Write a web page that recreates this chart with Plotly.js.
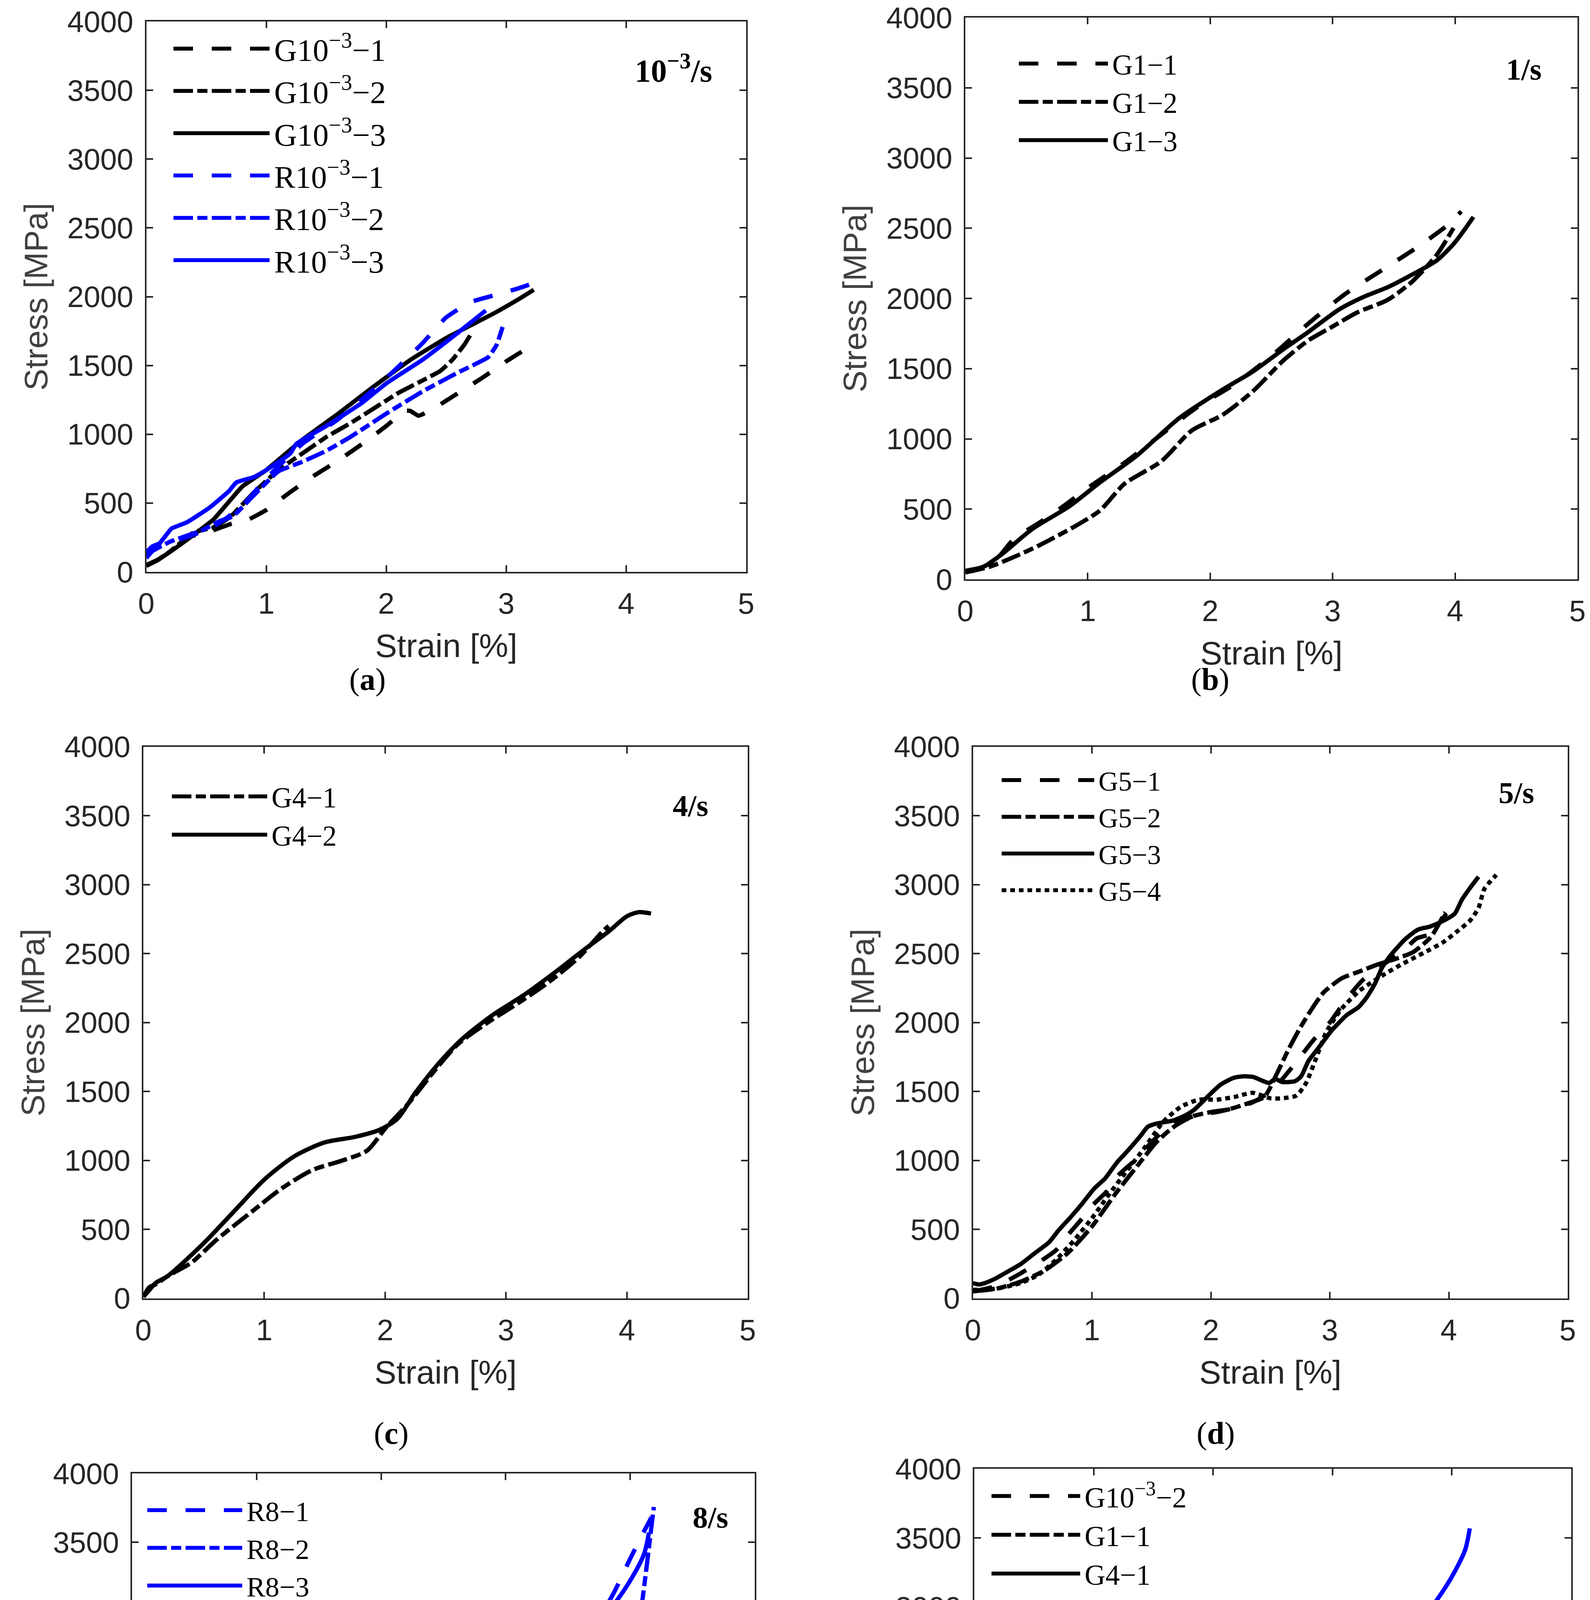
<!DOCTYPE html>
<html>
<head>
<meta charset="utf-8">
<script src="https://cdn.plot.ly/plotly-3.0.1.min.js"></script>
<style>html,body{margin:0;padding:0;background:#fff;}#chart{width:4070px;height:5597px;}</style>
</head>
<body>
<div id="chart"></div>
<script>
// ---------------- DATA (strain [%], stress [MPa]) ----------------
// (a) 10^-3/s
const a_G1_x = [0,0.1,0.2,0.35,0.55,0.71,0.85,1.0,1.2,1.4,1.6,1.8,2.0,2.15,2.2,2.27,2.4,2.6,2.8,3.0,3.2,3.25];
const a_G1_y = [50,90,150,250,300,350,380,450,580,700,810,930,1060,1170,1170,1135,1190,1300,1410,1530,1640,1680];
const a_G2_x = [0,0.1,0.2,0.4,0.55,0.7,0.9,1.1,1.3,1.5,1.7,1.9,2.1,2.3,2.45,2.55,2.65,2.7];
const a_G2_y = [44,88,150,290,320,400,580,740,860,980,1080,1190,1300,1390,1460,1540,1650,1720];
const a_G3_x = [0,0.1,0.21,0.4,0.56,0.8,1.0,1.3,1.6,1.9,2.2,2.5,2.7,2.9,3.1,3.23];
const a_G3_y = [44,90,153,273,381,620,740,960,1150,1350,1540,1700,1790,1880,1980,2050];
const a_R1_x = [0,0.05,0.18,0.44,0.6,0.8,1.0,1.3,1.6,1.9,2.1,2.3,2.5,2.7,2.9,3.1,3.2];
const a_R1_y = [120,180,207,284,350,480,680,930,1110,1330,1490,1660,1850,1960,2010,2060,2090];
const a_R2_x = [0,0.05,0.2,0.47,0.61,0.72,0.9,1.1,1.3,1.5,1.7,2.0,2.3,2.6,2.85,2.92,2.97];
const a_R2_y = [100,150,220,304,369,403,560,730,800,880,980,1150,1310,1450,1560,1650,1780];
const a_R3_x = [0,0.05,0.11,0.15,0.21,0.34,0.53,0.69,0.75,0.9,1.0,1.2,1.25,1.5,1.8,2.0,2.3,2.6,2.83];
const a_R3_y = [142,185,207,250,315,361,469,588,650,690,740,860,930,1060,1230,1370,1540,1740,1900];

// (b) 1/s
const b_G1_x = [0,0.1,0.25,0.4,0.6,0.8,1.0,1.3,1.6,1.9,2.2,2.5,2.8,3.1,3.4,3.7,3.95,4.05];
const b_G1_y = [50,70,140,290,400,520,650,830,1030,1230,1390,1590,1820,2030,2200,2370,2530,2620];
const b_G2_x = [0,0.2,0.4,0.6,0.9,1.1,1.3,1.6,1.85,2.1,2.35,2.6,2.8,3.0,3.2,3.45,3.65,3.85,4.0];
const b_G2_y = [50,90,160,240,380,490,680,840,1060,1170,1340,1560,1700,1800,1900,1990,2120,2310,2520];
const b_G3_x = [0,0.15,0.3,0.55,0.85,1.1,1.4,1.75,2.1,2.35,2.6,2.8,3.05,3.25,3.45,3.65,3.85,4.0,4.15];
const b_G3_y = [60,90,180,360,520,690,880,1150,1350,1480,1640,1760,1920,2010,2080,2170,2270,2400,2580];

// (c) 4/s
const c_G1_x = [0,0.05,0.1,0.2,0.4,0.6,0.9,1.15,1.4,1.65,1.85,2.0,2.2,2.4,2.6,2.85,3.1,3.35,3.6,3.8,3.85];
const c_G1_y = [10,80,100,160,260,420,630,800,930,1000,1070,1230,1420,1640,1840,2000,2140,2290,2470,2660,2700];
const c_G2_x = [0,0.05,0.1,0.2,0.5,0.75,1.0,1.25,1.5,1.75,1.95,2.1,2.25,2.45,2.65,2.9,3.15,3.4,3.65,3.85,4.0,4.1,4.2];
const c_G2_y = [10,60,110,160,400,630,860,1030,1130,1170,1220,1300,1490,1710,1890,2060,2200,2360,2530,2660,2770,2800,2790];

// (d) 5/s
const d_G1_x = [0,0.2,0.4,0.57,0.7,0.8,0.9,1.0,1.12,1.22,1.36,1.5,1.62,1.75,1.9,2.05,2.2,2.35,2.45,2.55,2.65,2.76,2.86,3.0,3.14,3.28,3.45,3.63,3.73,3.84,3.98];
const d_G1_y = [50,90,180,270,350,460,560,670,770,890,1000,1130,1230,1290,1330,1350,1380,1420,1470,1540,1640,1760,1870,2000,2170,2310,2420,2530,2610,2640,2790];
const d_G2_x = [0,0.2,0.4,0.6,0.8,1.0,1.2,1.4,1.55,1.7,1.85,2.0,2.15,2.3,2.45,2.55,2.65,2.75,2.85,2.95,3.1,3.25,3.4,3.55,3.7,3.85,3.97];
const d_G2_y = [50,70,120,200,330,520,760,980,1140,1250,1320,1350,1370,1410,1460,1620,1800,1960,2100,2220,2320,2370,2420,2460,2510,2620,2800];
const d_G3_x = [0,0.05,0.1,0.18,0.3,0.4,0.52,0.64,0.72,0.82,0.92,1.02,1.11,1.21,1.31,1.41,1.47,1.54,1.68,1.78,1.86,1.98,2.08,2.19,2.28,2.36,2.42,2.49,2.54,2.6,2.71,2.76,2.82,2.91,3.01,3.14,3.24,3.31,3.38,3.44,3.51,3.63,3.74,3.84,3.94,4.05,4.11,4.18,4.25];
const d_G3_y = [110,100,110,139,197,247,327,406,493,587,688,796,868,984,1078,1179,1244,1266,1288,1324,1367,1468,1548,1598,1610,1604,1582,1561,1590,1568,1575,1611,1720,1821,1936,2052,2110,2182,2283,2399,2486,2601,2673,2695,2731,2789,2890,2977,3056];
const d_G4_x = [0,0.2,0.4,0.55,0.7,0.85,1.0,1.15,1.3,1.45,1.6,1.75,1.9,2.05,2.2,2.35,2.5,2.6,2.72,2.8,2.88,2.97,3.1,3.25,3.44,3.6,3.8,3.95,4.07,4.18,4.25,4.3,4.4];
const d_G4_y = [60,70,110,170,280,420,580,760,930,1100,1280,1390,1440,1440,1460,1490,1450,1450,1470,1560,1730,1930,2100,2230,2340,2420,2510,2580,2660,2740,2830,2970,3070];

// (e) 8/s
const e_R1_x = [0,0,0.04,0.12,0.3,0.55,0.77,0.97,1.14,1.26,1.38,1.5,1.6,1.7,1.8,1.95,2.05,2.2,2.36,2.48,2.65,2.85,2.97,3.14,3.3,3.46,3.63,3.83,4.0,4.1,4.17];
const e_R1_y = [30,210,350,450,590,760,940,1180,1450,1730,1900,1970,1930,1800,1620,1390,1310,1410,1660,1760,1780,1790,1930,2280,2550,2690,2830,3070,3380,3560,3680];
const e_R2_x = [0,0.05,0.16,0.36,0.57,0.77,0.97,1.14,1.3,1.46,1.63,1.79,1.95,2.12,2.32,2.52,2.69,2.85,3.01,3.18,3.34,3.5,3.63,3.75,3.83,3.91,3.99,4.07,4.13,4.18,4.19];
const e_R2_y = [150,90,62,38,79,216,491,904,1179,1522,1866,2175,2485,2691,2845,2897,2863,2759,2622,2450,2210,2038,1928,1918,2003,2209,2485,2897,3309,3687,3756];
const R8_3_x = [0,0.16,0.4,0.65,0.81,0.97,1.14,1.3,1.46,1.63,1.79,1.95,2.08,2.2,2.32,2.44,2.57,2.67,2.77,2.89,3.01,3.18,3.34,3.5,3.67,3.83,3.99,4.11,4.15];
const R8_3_y = [125,62,45,79,148,320,629,973,1351,1729,2072,2278,2320,2261,2072,1832,1625,1505,1557,1763,2038,2347,2553,2691,2828,3000,3206,3412,3570];

// (f) comparison
const f_G10_x = [0,0.2,0.4,0.6,0.9,1.2,1.5,1.71,1.85,1.97,2.09,2.19,2.35,2.5,2.65,2.75,2.85];
const f_G10_y = [70,170,290,410,600,810,1000,1107,1177,1294,1365,1423,1530,1630,1720,1780,1830];
const f_G1_x = [0,0.2,0.4,0.6,0.9,1.28,1.47,1.7,1.9,2.1,2.3,2.5,2.8,3.0,3.13,3.25,3.4,3.56,3.64,3.75,3.89,3.99,4.04];
const f_G1_y = [50,110,200,330,560,874,955,1090,1200,1330,1470,1620,1888,2015,2085,2155,2238,2331,2378,2443,2517,2588,2622];
const f_G4_x = [0,0.2,0.41,0.6,0.87,1.14,1.45,1.71,1.87,1.98,2.09,2.19,2.29,2.43,2.57,2.77,2.99,3.21,3.37,3.53,3.67,3.81,3.95,4.05];
const f_G4_y = [40,238,375,470,664,815,992,1037,1084,1154,1259,1376,1552,1668,1773,1902,2066,2215,2320,2461,2578,2707,2780,2797];
const f_G5_x = [0,0.2,0.33,0.6,0.8,1.0,1.2,1.36,1.47,1.59,1.7,1.81,1.9,2.0,2.12,2.2,2.36,2.49,2.57,2.63,2.77,2.93,3.05,3.18,3.29,3.4,3.52,3.65,3.8];
const f_G5_y = [60,100,119,300,450,620,820,1026,1096,1189,1259,1318,1345,1365,1388,1435,1458,1505,1598,1692,1797,2007,2100,2250,2390,2435,2490,2600,2710];
const mfr_x = [0,1.8];
const mfr_y = [0,1600];

// tick / label text
const xTickVals = [0,1,2,3,4,5];
const yTickVals = [0,500,1000,1500,2000,2500,3000,3500,4000];
const panelLetters = ['a','b','c','d','e','f'];
const rateLabels = ['10<sup>\u22123</sup>/s','1/s','4/s','5/s','8/s',''];
const xTitle = 'Strain [%]';
const yTitle = 'Stress [MPa]';

// ---------------- LAYOUT GEOMETRY (pixels) ----------------
const W = 4070, H = 5597;
const px = v => v / W;
const py = v => 1 - v / H;
const boxes = [ // [left, right, top, bottom]
  [374.5, 1910, 55, 1464],
  [2471, 4038, 45, 1483],
  [367, 1914, 1911.5, 3323.5],
  [2490.5, 4013, 1911.5, 3323.5],
  [338, 1932, 3772, 5180],
  [2494, 4022, 3760, 5179]
];
const legendPos = [ // [x of line start, y of first row centre, font size]
  [441, 122, 81],
  [2605, 160, 73],
  [437, 2036, 73],
  [2561, 1994, 70],
  [374, 3863, 72],
  [2535, 3827, 74]
];
const itemW = [246, 228, 244, 237, 243, 227];
const rateLabelPos = [[1825, 175], [3948, 178], [1815, 2062], [3929, 2029], [1866, 3884], null];
const rateFont = [82, 78, 78, 78, 78, 78];
const panelLabelPos = [[940, 1739], [3098, 1739], [1001, 3669], [3112, 3669], [1007, 5542], [3112, 5542]];

const BLACK = '#000000', BLUE = '#0000ff', RED = '#ff0000';
const DASH = '50px,48px';
const DASHDOT = '50px,11px,26px,11px';
const DOT = '12px,10px';
const LW = 11;
const SMOOTH = [0.4, 0.7, 0.8, 0.6, 0.9, 0.8];

function tr(x, y, name, color, dash, k) {
  const s = k === 0 ? '' : String(k + 1);
  return {
    x: x, y: y, name: '\u200a' + name, type: 'scatter', mode: 'lines',
    line: {color: color, width: LW, dash: dash, shape: 'spline', smoothing: SMOOTH[k]},
    xaxis: 'x' + s, yaxis: 'y' + s, legend: 'legend' + s,
    hoverinfo: 'skip'
  };
}
const M = '\u2212';
const traces = [
  tr(a_G1_x, a_G1_y, 'G10<sup>'+M+'3</sup>'+M+'1', BLACK, DASH, 0),
  tr(a_G2_x, a_G2_y, 'G10<sup>'+M+'3</sup>'+M+'2', BLACK, DASHDOT, 0),
  tr(a_G3_x, a_G3_y, 'G10<sup>'+M+'3</sup>'+M+'3', BLACK, 'solid', 0),
  tr(a_R1_x, a_R1_y, 'R10<sup>'+M+'3</sup>'+M+'1', BLUE, DASH, 0),
  tr(a_R2_x, a_R2_y, 'R10<sup>'+M+'3</sup>'+M+'2', BLUE, DASHDOT, 0),
  tr(a_R3_x, a_R3_y, 'R10<sup>'+M+'3</sup>'+M+'3', BLUE, 'solid', 0),
  tr(b_G1_x, b_G1_y, 'G1'+M+'1', BLACK, DASH, 1),
  tr(b_G2_x, b_G2_y, 'G1'+M+'2', BLACK, DASHDOT, 1),
  tr(b_G3_x, b_G3_y, 'G1'+M+'3', BLACK, 'solid', 1),
  tr(c_G1_x, c_G1_y, 'G4'+M+'1', BLACK, DASHDOT, 2),
  tr(c_G2_x, c_G2_y, 'G4'+M+'2', BLACK, 'solid', 2),
  tr(d_G1_x, d_G1_y, 'G5'+M+'1', BLACK, DASH, 3),
  tr(d_G2_x, d_G2_y, 'G5'+M+'2', BLACK, DASHDOT, 3),
  tr(d_G3_x, d_G3_y, 'G5'+M+'3', BLACK, 'solid', 3),
  tr(d_G4_x, d_G4_y, 'G5'+M+'4', BLACK, DOT, 3),
  tr(e_R1_x, e_R1_y, 'R8'+M+'1', BLUE, DASH, 4),
  tr(e_R2_x, e_R2_y, 'R8'+M+'2', BLUE, DASHDOT, 4),
  tr(R8_3_x, R8_3_y, 'R8'+M+'3', BLUE, 'solid', 4),
  tr(f_G10_x, f_G10_y, 'G10<sup>'+M+'3</sup>'+M+'2', BLACK, DASH, 5),
  tr(f_G1_x, f_G1_y, 'G1'+M+'1', BLACK, DASHDOT, 5),
  tr(f_G4_x, f_G4_y, 'G4'+M+'1', BLACK, 'solid', 5),
  tr(f_G5_x, f_G5_y, 'G5'+M+'1', BLACK, DASHDOT, 5),
  tr(R8_3_x, R8_3_y, 'R8'+M+'3', BLUE, 'solid', 5),
  tr(mfr_x, mfr_y, '<span style="font-family:\'Liberation Sans\',Arial,sans-serif">Mfr. Data</span>', RED, 'solid', 5)
];

const AXC = '#262626';
const sans = 'Liberation Sans, Arial, sans-serif';
const serif = 'Liberation Serif, Times New Roman, serif';
const tickFont = {family: sans, size: 76, color: AXC};
const layout = {
  width: W, height: H,
  margin: {l: 0, r: 0, t: 0, b: 0, pad: 0},
  paper_bgcolor: '#ffffff', plot_bgcolor: '#ffffff',
  showlegend: true,
  annotations: []
};
boxes.forEach((b, k) => {
  const s = k === 0 ? '' : String(k + 1);
  const common = {
    showline: true, mirror: 'ticks', linecolor: AXC, linewidth: 4,
    ticks: 'inside', ticklen: 17, tickwidth: 4, tickcolor: AXC,
    showgrid: false, zeroline: false, tickfont: tickFont, fixedrange: true,
    automargin: false
  };
  layout['xaxis' + s] = Object.assign({}, common, {
    domain: [px(b[0]), px(b[1])], range: [0, 5], tickvals: xTickVals,
    anchor: 'y' + s, ticklabelstandoff: 12,
    title: {text: xTitle, standoff: 38, font: {family: sans, size: 84, color: AXC}}
  });
  layout['yaxis' + s] = Object.assign({}, common, {
    domain: [py(b[3]), py(b[2])], range: [0, 4000], tickvals: yTickVals,
    anchor: 'x' + s, ticklabelstandoff: 14,
    title: {text: yTitle, standoff: 24, font: {family: sans, size: 84, color: '#404040'}}
  });
  const lp = legendPos[k];
  layout['legend' + s] = {
    x: px(lp[0] - 2), y: py(lp[1] - lp[2] * 0.7), xanchor: 'left', yanchor: 'top',
    bgcolor: 'rgba(0,0,0,0)', borderwidth: 0,
    font: {family: serif, size: lp[2], color: '#000000'},
    itemwidth: itemW[k], tracegroupgap: 0, traceorder: 'normal'
  };
  if (rateLabelPos[k]) {
    layout.annotations.push({
      text: '<b>' + rateLabels[k] + '</b>', xref: 'paper', yref: 'paper', showarrow: false,
      x: px(rateLabelPos[k][0]), y: py(rateLabelPos[k][1]), xanchor: 'right', yanchor: 'middle',
      font: {family: serif, size: rateFont[k], color: '#000000'}
    });
  }
  layout.annotations.push({
    text: '(<b>' + panelLetters[k] + '</b>)', xref: 'paper', yref: 'paper', showarrow: false,
    x: px(panelLabelPos[k][0]), y: py(panelLabelPos[k][1]), xanchor: 'center', yanchor: 'middle',
    font: {family: serif, size: 80, color: '#000000'}
  });
});

Plotly.newPlot('chart', traces, layout, {staticPlot: true, displayModeBar: false});
</script>
</body>
</html>
